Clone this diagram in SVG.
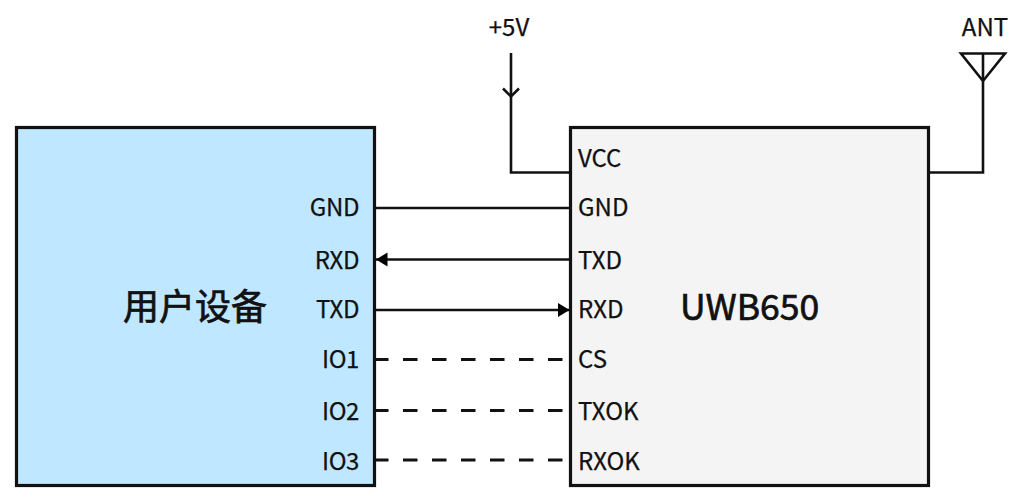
<svg xmlns="http://www.w3.org/2000/svg" width="1022" height="502" viewBox="0 0 1022 502">
<style>
text{font-family:"Noto Sans CJK SC","Noto Sans",sans-serif;fill:#111;font-size:24px;stroke:#111;stroke-width:.25}
.r{text-anchor:end;letter-spacing:-.4px}
.box{stroke:#111;stroke-width:3.2}
.w{fill:none;stroke:#111;stroke-width:2.6}
.d{stroke-width:3;stroke-dasharray:14.500 14.500;stroke-dashoffset:1}
.t{font-size:35.500px;stroke-width:.7}
</style>
<defs>
<marker id="a" markerUnits="userSpaceOnUse" markerWidth="12" markerHeight="16" refX="11.500" refY="8" orient="auto-start-reverse"><path d="M0 1L11.500 8L0 15Z" fill="#000"/></marker>
</defs>
<rect width="1022" height="502" fill="#fff"/>
<g id="user-device">
<rect class="box" x="16.500" y="127.500" width="358" height="358" fill="#bfe7ff"/>
<text class="t" x="195" y="320" text-anchor="middle" style="font-size:36px">用户设备</text>
<text class="r" x="359" y="216">GND</text>
<text class="r" x="359" y="269">RXD</text>
<text class="r" x="359" y="318">TXD</text>
<text class="r" x="359" y="368">IO1</text>
<text class="r" x="359" y="420">IO2</text>
<text class="r" x="359" y="470">IO3</text>
</g>
<g id="uwb650">
<rect class="box" x="570.500" y="127.500" width="358" height="358" fill="#f4f4f4"/>
<text class="t" x="680" y="320">UWB650</text>
<text x="578" y="167">VCC</text>
<text x="578" y="216">GND</text>
<text x="578" y="269">TXD</text>
<text x="578" y="318">RXD</text>
<text x="578" y="368">CS</text>
<text x="578" y="420">TXOK</text>
<text x="578" y="470">RXOK</text>
</g>
<g id="power">
<text x="509" y="36" text-anchor="middle">+5V</text>
</g>
<g id="antenna">
<text x="985" y="36" text-anchor="middle">ANT</text>
<path class="w" d="M961 53.500H1005L983 81Z"/>
</g>
<g id="connectors">
<path class="w" d="M511 53V172.500H570"/>
<path class="w" d="M503 88.500L511 96.500L519 88.500"/>
<path class="w" d="M929 172.500H983V53"/>
<path class="w" d="M375 208H570"/>
<path class="w" d="M570 259.500H376" marker-end="url(#a)"/>
<path class="w" d="M375 310H569.500" marker-end="url(#a)"/>
<path class="w d" d="M375 359.500H563"/>
<path class="w d" d="M375 410.500H563"/>
<path class="w d" d="M375 460H563"/>
</g>
</svg>
